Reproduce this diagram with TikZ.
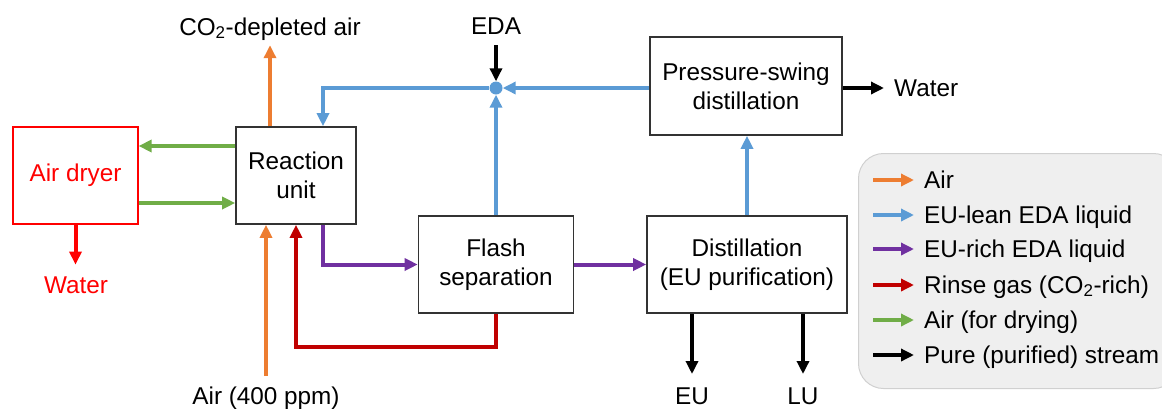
\documentclass[tikz,border=0pt]{standalone}
\usepackage{fontspec}
\setmainfont{Liberation Sans}
\usetikzlibrary{arrows.meta}
\definecolor{cOr}{HTML}{ED7D31}
\definecolor{cBl}{HTML}{5B9BD5}
\definecolor{cPu}{HTML}{7030A0}
\definecolor{cRd}{HTML}{C00000}
\definecolor{cGr}{HTML}{70AD47}
\definecolor{cDry}{HTML}{FF0000}
\definecolor{cBox}{HTML}{333333}
\definecolor{cLegF}{HTML}{EFEFEF}
\definecolor{cLegD}{HTML}{D0D0D0}
\tikzset{
  x=1pt, y=-1pt,
  every node/.style={font=\fontsize{24.3}{29}\selectfont, inner sep=0pt},
  unit/.style={draw=cBox, line width=1.6pt, align=center, minimum height=97pt, fill=white},
  flow/.style={line width=4pt, -{Triangle[length=13pt,width=12pt]}},
  lbl/.style={anchor=base},
}
\begin{document}
\begin{tikzpicture}
\useasboundingbox (0,0) rectangle (1162,408);
% legend background
\node[draw=cLegD, fill=cLegF, line width=1pt, rounded corners=25pt, minimum width=320pt, minimum height=235pt, anchor=north west] (legend) at (858,153) {};
% units
\node[unit, draw=cDry, line width=1.2pt, text=cDry, minimum width=125pt] (dryer) at (75.5,175.5) {Air dryer};
\node[unit, minimum width=120pt] (react) at (296,175.5) {Reaction\\unit};
\node[unit, minimum width=155pt] (flash) at (496,264.5) {Flash\\separation};
\node[unit, minimum width=200pt] (dist) at (747,264.5) {Distillation\\(EU purification)};
\node[unit, minimum width=192pt, minimum height=98pt] (psd) at (746,86) {Pressure-swing\\distillation};
% junction
\node[circle, fill=cBl, minimum size=13pt] (junc) at (496,88) {};
% labels
\node[lbl] (co2) at (270,35) {CO\textsubscript{2}-depleted air};
\node[lbl] (eda) at (496,34) {EDA};
\node[lbl, text=cDry] (waterL) at (76,293) {Water};
\node[lbl] (air) at (266,404) {Air (400 ppm)};
\node[lbl] (eu) at (692,404) {EU};
\node[lbl] (lu) at (803,404) {LU};
\node[anchor=base west] (waterR) at (894,96) {Water};
% green
\draw[flow, cGr] (react.west |- 0,146) -- (dryer.east |- 0,146);
\draw[flow, cGr] (dryer.east |- 0,203) -- (react.west |- 0,203);
% water from dryer
\draw[flow, cDry] (dryer.south) -- ([yshift=-40pt]dryer.south);
% orange
\draw[flow, cOr] ([xshift=-26pt]react.north) -- ([xshift=-26pt,yshift=81pt]react.north);
\draw[flow, cOr] (air.north |- 0,376) -- (air.north |- react.south);
% red rinse
\draw[flow, cRd] (flash.south) -- ++(0,33) -| (react.south);
% purple
\draw[flow, cPu] ([xshift=27pt]react.south) |- (flash.west);
\draw[flow, cPu] (flash.east) -- (dist.west);
% blue
\draw[flow, cBl] (flash.north) -- (flash.north |- junc.south);
\draw[flow, cBl] (psd.west |- junc) -- (junc.east);
\draw[flow, cBl] (junc.west) -| ([xshift=27pt]react.north);
\draw[flow, cBl] (dist.north) -- (dist.north |- psd.south);
% black
\draw[flow, black] (eda.base |- 0,45) -- (junc.north);
\draw[flow, black] (psd.east |- junc) -- (884,88);
\draw[flow, black] (eu.base |- dist.south) -- (eu.base |- 0,374);
\draw[flow, black] (lu.base |- dist.south) -- (lu.base |- 0,374);
% legend entries
\foreach \c/\t/\y [count=\i] in {cOr/Air/180, cBl/EU-lean EDA liquid/215, cPu/EU-rich EDA liquid/249, cRd/Rinse gas (CO\textsubscript{2}-rich)/285, cGr/Air (for drying)/320, black/Pure (purified) stream/355}{
  \coordinate (ls\i) at (873,\y);
  \node[anchor=base west] (lt\i) at (924,\y+8) {\t};
  \draw[flow, \c] (ls\i) -- ++(41,0);
}
\end{tikzpicture}
\end{document}
